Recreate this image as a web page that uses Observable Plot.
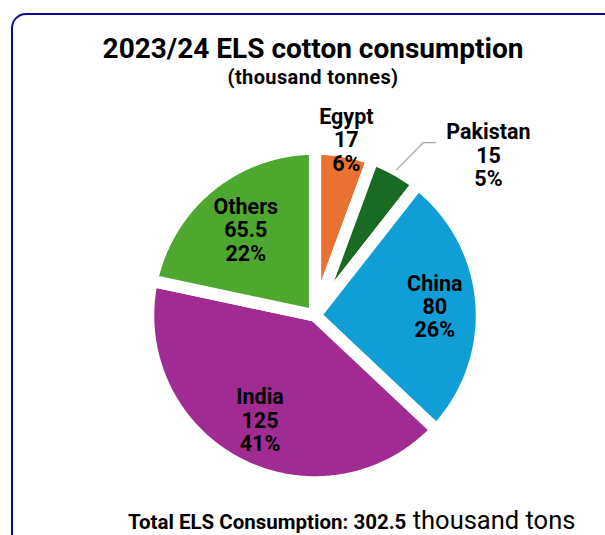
<!DOCTYPE html>
<html><head><meta charset="utf-8">
<script src="https://cdn.jsdelivr.net/npm/d3@7"></script>
<script src="https://cdn.jsdelivr.net/npm/@observablehq/plot@0.6"></script>
<style>
body{margin:0;background:#fff;}
#wrap{position:relative;width:605px;height:535px;overflow:hidden;background:#fff;}
#chart{position:absolute;left:0;top:0;}
#frame{position:absolute;left:10.5px;top:12.5px;width:650px;height:600px;border:2.5px solid #0c0c94;border-radius:15px;box-sizing:border-box;}
.t{position:absolute;left:0;width:626px;text-align:center;color:#000;white-space:nowrap;line-height:1;}
#title{top:31.5px;font:700 28px Roboto, "Liberation Sans", sans-serif;}
#sub{top:65px;font:700 20px Roboto, "Liberation Sans", sans-serif;letter-spacing:0.4px;}
#foot{top:505px;left:128px;width:auto;text-align:left;line-height:26px;}
#foot .b{font:700 20.5px "Liberation Sans Narrow", Roboto, sans-serif;}
#foot .r{font:400 25.5px "Liberation Sans Narrow", Roboto, sans-serif;}
</style></head>
<body><div id="wrap"><div id="chart"></div>
<div class="t" id="title">2023/24 ELS cotton consumption</div>
<div class="t" id="sub">(thousand tonnes)</div>
<div class="t" id="foot"></div>
<div id="frame"></div></div>
<script>
const countries = ["Egypt", "Pakistan", "China", "India", "Others"];
const values = [17, 15, 80, 125, 65.5];
const colors = ["#E97132", "#196B24", "#0F9ED5", "#A02B93", "#4EA72E"];
const total = d3.sum(values);

const rows = countries.map((name, i) => ({name, value: values[i], pct: Math.round(values[i] / total * 100) + "%"}));
const arcs = d3.pie().sort(null).value(d => d.value)(rows);

// wedge outlines in unit-radius data space
const pts = arcs.flatMap(a => {
  const n = Math.max(2, Math.ceil((a.endAngle - a.startAngle) / (Math.PI / 360)));
  const arr = [{name: a.data.name, x: 0, y: 0}];
  for (let k = 0; k <= n; k++) {
    const t = a.startAngle + (a.endAngle - a.startAngle) * k / n;
    arr.push({name: a.data.name, x: Math.sin(t), y: Math.cos(t)});
  }
  arr.push({name: a.data.name, x: 0, y: 0});
  return arr;
});

// label layout (radius along mid-angle, or explicit spot with leader)
const layout = {Egypt: {r: 1.07}, China: {r: 0.72}, India: {r: 0.71}, Others: {r: 0.66},
  Pakistan: {x: 1.04, y: 0.96}};
const labels = arcs.map(a => {
  const mid = (a.startAngle + a.endAngle) / 2, L = layout[a.data.name];
  const x = L.r != null ? L.r * Math.sin(mid) : L.x;
  const y = L.r != null ? L.r * Math.cos(mid) : L.y;
  return {x, y, text: `${a.data.name}\n${a.data.value}\n${a.data.pct}`};
});
const pak = arcs[1], pmid = (pak.startAngle + pak.endAngle) / 2;
const leader = [{x: Math.sin(pmid), y: Math.cos(pmid)}, {x: 0.65, y: 1.037}, {x: 0.722, y: 1.037}];

const cx = 314.5, cy = 315, R = 166.8;
const plot = Plot.plot({
  width: 605, height: 535, margin: 0,
  x: {domain: [-1, 1], range: [cx - R, cx + R], axis: null},
  y: {domain: [-1, 1], range: [cy + R, cy - R], axis: null},
  color: {domain: countries, range: colors},
  style: {background: "transparent"},
  marks: [
    Plot.line(pts, {x: "x", y: "y", z: "name", fill: "name", stroke: "white", strokeWidth: 12.2, strokeLinejoin: "round"}),
    Plot.line(leader, {x: "x", y: "y", stroke: "#a6a6a6", strokeWidth: 1.3, strokeLinejoin: "miter"}),
    Plot.text(labels, {x: "x", y: "y", text: "text", fontSize: 21.5, fontWeight: 700, lineHeight: 1.09,
      fontFamily: "Roboto, 'Liberation Sans', sans-serif", fill: "black"})
  ]
});
document.getElementById("chart").appendChild(plot);
document.getElementById("foot").innerHTML =
  `<span class="b">Total ELS Consumption: ${total}</span><span class="r"> thousand tons</span>`;
</script></body></html>
